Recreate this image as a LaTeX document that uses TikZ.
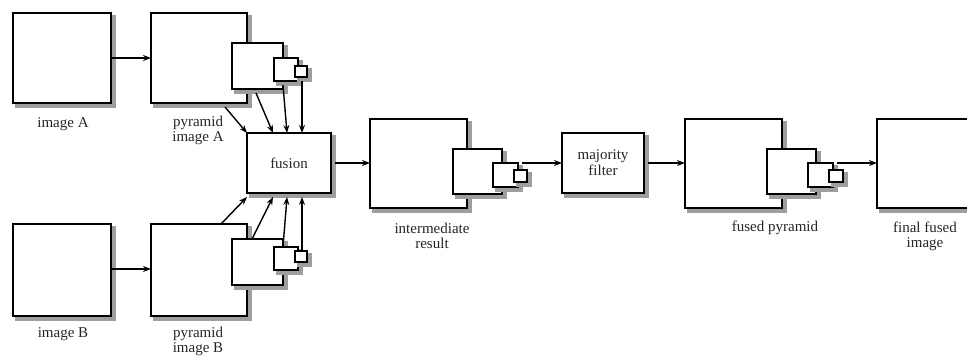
\documentclass[tikz,border=0pt]{standalone}
\usepackage{fontspec}
\setmainfont{Liberation Serif}
\usetikzlibrary{arrows.meta}

% rectangle from its top-left corner (x,y) with width w and height h
\newcommand\imgbox[5]{\node[imgframe, anchor=north west, minimum width=#4pt, minimum height=#5pt] (#1) at (#2,#3) {};}

\begin{document}
\begin{tikzpicture}[x=1pt, y=-1pt,
  imgframe/.style={draw, line width=2.2pt, fill=white, inner sep=0pt, outer sep=0pt,
    preaction={fill=black!38, draw=black!38, line width=2.2pt, transform canvas={shift={(3.5pt,-3.5pt)}}}},
  flow/.style={line width=1.4pt, -{Stealth[length=8pt, width=6pt]}},
  txt/.style={font=\fontsize{15}{15}\selectfont, text=black!85},
  caption/.style={txt, align=center, inner sep=0pt}]
\clip (0,0) rectangle (967,356);
\fill[white] (0,0) rectangle (967,356);

% source images
\imgbox{imgA}{13}{13}{98}{90}
\imgbox{imgB}{13}{224}{98}{92}

% pyramid of image A
\imgbox{pA0}{151}{13}{96}{90}
\imgbox{pA1}{232}{43}{51}{46}
\imgbox{pA2}{274}{58}{24}{23}
\imgbox{pA3}{295}{66}{12}{11}

% pyramid of image B
\imgbox{pB0}{151}{224}{96}{92}
\imgbox{pB1}{232}{239}{51}{46}
\imgbox{pB2}{274}{247}{24}{23}
\imgbox{pB3}{295}{251}{12}{11}

% fusion block
\node[imgframe, txt, anchor=north west, minimum width=84pt, minimum height=60pt] (fusion) at (247,133) {fusion};

% intermediate result pyramid
\imgbox{iR0}{370}{119}{97}{89}
\imgbox{iR1}{453}{149}{49}{45}
\imgbox{iR2}{493}{163}{25}{24}
\imgbox{iR3}{514}{170}{13}{12}

% majority filter block
\node[imgframe, txt, anchor=north west, minimum width=82pt, minimum height=60pt,
      align=center] (major) at (562,133) {majority\\[1pt]filter};

% fused pyramid
\imgbox{fP0}{685}{119}{97}{89}
\imgbox{fP1}{767}{149}{49}{45}
\imgbox{fP2}{808}{163}{25}{24}
\imgbox{fP3}{829}{170}{14}{12}

% final fused image
\imgbox{fin}{877}{119}{100}{89}

% captions
\node[caption] (capA) at (63,124) {image A};
\node[caption] (capB) at (63,334) {image B};
\node[caption] (capPA) at (198,130) {pyramid\\image A};
\node[caption] (capPB) at (198,341) {pyramid\\image B};
\node[caption] (capI) at (432,236) {intermediate\\result};
\node[caption] (capF) at (775,228) {fused pyramid};
\node[caption] (capFin) at (925,236) {final fused\\image};

% connectors
\draw[flow] (imgA.east |- 0,58) -- (pA0.west |- 0,58);
\draw[flow] (imgB.east |- 0,269) -- (pB0.west |- 0,269);

\draw[flow] ([xshift=74pt, yshift=-4pt]pA0.south west) -- (fusion.north west);
\draw[flow] ([xshift=24pt, yshift=-4pt]pA1.south west) -- ([xshift=26pt]fusion.north west);
\draw[flow] ([xshift=9pt, yshift=-4pt]pA2.south west) -- ([xshift=40pt]fusion.north west);
\draw[flow] ([xshift=7pt, yshift=-4pt]pA3.south west) -- ([xshift=55pt]fusion.north west);

\draw[flow] ([xshift=70pt]pB0.north west) -- ([yshift=-4pt]fusion.south west);
\draw[flow] ([xshift=20pt]pB1.north west) -- ([xshift=26pt, yshift=-4pt]fusion.south west);
\draw[flow] ([xshift=9pt]pB2.north west) -- ([xshift=40pt, yshift=-4pt]fusion.south west);
\draw[flow] ([xshift=7pt]pB3.north west) -- ([xshift=55pt, yshift=-4pt]fusion.south west);

\draw[flow] ([xshift=4pt]fusion.east) -- (iR0.west |- fusion.east);
\draw[flow] ([xshift=4pt]iR2.north east) -- (major.west);
\draw[flow] ([xshift=4pt]major.east) -- (fP0.west |- major.east);
\draw[flow] ([xshift=4pt]fP2.north east) -- (fin.west |- fP2.north east);
\end{tikzpicture}
\end{document}
